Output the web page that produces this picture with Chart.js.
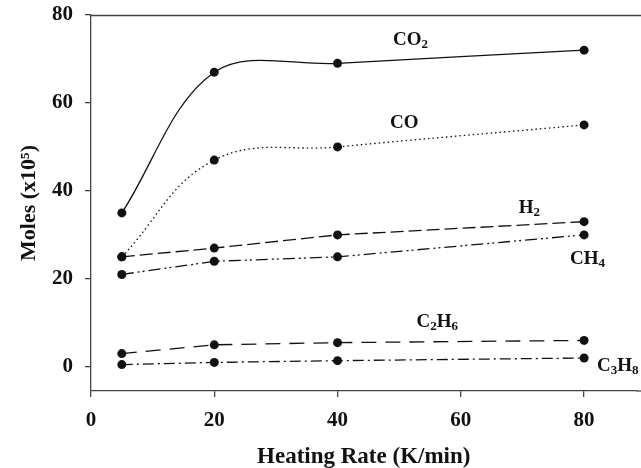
<!DOCTYPE html>
<html>
<head>
<meta charset="utf-8">
<title>Moles vs Heating Rate</title>
<script src="https://cdn.jsdelivr.net/npm/chart.js@4/dist/chart.umd.min.js"></script>
<style>
  html, body { margin: 0; padding: 0; background: #fff; }
  #wrap { width: 641px; height: 468px; }
</style>
</head>
<body>
<div id="wrap"><canvas id="canvas" width="641" height="468"></canvas></div>
<script>
// heating rates (K/min)
var rates = [5, 20, 40, 80];
// moles (x10^5) per gas
var co2  = [35, 67, 69, 72];
var co   = [25, 47, 50, 55];
var h2   = [25, 27, 30, 33];
var ch4  = [21, 24, 25, 30];
var c2h6 = [3, 5, 5.5, 6];
var c3h8 = [0.5, 1, 1.4, 2];
var xTicks = [0, 20, 40, 60, 80];
var yTicks = [0, 20, 40, 60, 80];

// gas labels, anchored in data units (left x, middle y)
var gasNames = ["CO2", "CO", "H2", "CH4", "C2H6", "C3H8"];
var labelX = [49, 48.5, 69.4, 77.7, 52.8, 82.1];
var labelY = [74.3, 55.5, 36.1, 24.5, 10.2, 0.2];

var serif = "'Liberation Serif', 'Times New Roman', serif";
var ink = "#111";

function pts(ys) {
  return rates.map(function (r, i) { return { x: r, y: ys[i] }; });
}

function ds(ys, dash, tension) {
  return {
    data: pts(ys),
    borderColor: ink,
    backgroundColor: ink,
    borderWidth: 1.3,
    borderDash: dash,
    tension: tension,
    pointRadius: 4.5,
    pointBackgroundColor: ink,
    pointBorderWidth: 0,
    fill: false
  };
}

var gasLabels = {
  id: "gasLabels",
  afterDatasetsDraw: function (chart) {
    var c = chart.ctx, xs = chart.scales.x, ys = chart.scales.y, a = chart.chartArea;
    c.save();
    // top frame line
    c.strokeStyle = "#444";
    c.lineWidth = 1.3;
    c.beginPath();
    c.moveTo(a.left, a.top + 0.5);
    c.lineTo(chart.width, a.top + 0.5);
    c.stroke();
    // x axis runs off the right edge in the original
    c.beginPath();
    c.moveTo(a.right, a.bottom);
    c.lineTo(chart.width, a.bottom);
    c.stroke();

    c.fillStyle = ink;
    c.textBaseline = "middle";
    gasNames.forEach(function (name, i) {
      var px = xs.getPixelForValue(labelX[i]);
      var py = ys.getPixelForValue(labelY[i]);
      var parts = name.match(/[A-Z][a-z]?|\d+/g);
      parts.forEach(function (p) {
        if (/\d/.test(p)) {
          c.font = "bold 13px " + serif;
          c.fillText(p, px, py + 5);
        } else {
          c.font = "bold 19px " + serif;
          c.fillText(p, px, py);
        }
        px += c.measureText(p).width;
      });
    });
    c.restore();
  }
};

new Chart(document.getElementById("canvas").getContext("2d"), {
  type: "line",
  data: {
    datasets: [
      ds(co2, [], 0.35),
      ds(co, [1.5, 3], 0.4),
      ds(h2, [13, 5], 0),
      ds(ch4, [12, 4, 2, 3, 2, 4], 0),
      ds(c2h6, [15, 9], 0),
      ds(c3h8, [11, 4, 2, 4], 0)
    ]
  },
  options: {
    responsive: false,
    animation: false,
    layout: { padding: { top: 15, right: 0, left: 0, bottom: 0 } },
    plugins: {
      legend: { display: false },
      tooltip: { enabled: false }
    },
    scales: {
      x: {
        type: "linear",
        min: 0,
        max: 88.5,
        afterBuildTicks: function (s) { s.ticks = xTicks.map(function (v) { return { value: v }; }); },
        afterFit: function (s) { s.height = 77; s.paddingLeft = 0; s.paddingRight = 0; },
        grid: { display: true, drawOnChartArea: false, drawTicks: true, tickLength: 6, color: "#444", lineWidth: 1.3 },
        border: { display: true, color: "#444", width: 1.3 },
        ticks: { color: ink, padding: 11, font: { family: serif, size: 21, weight: "bold" } },
        title: { display: true, text: "Heating Rate (K/min)", color: ink, padding: { top: 0, bottom: -3 }, font: { family: serif, size: 23, weight: "bold" } }
      },
      y: {
        min: -5.5,
        max: 80,
        afterBuildTicks: function (s) { s.ticks = yTicks.map(function (v) { return { value: v }; }); },
        afterFit: function (s) { s.width = 91; s.paddingTop = 0; s.paddingBottom = 0; },
        grid: { display: true, drawOnChartArea: false, drawTicks: true, tickLength: 6, color: "#444", lineWidth: 1.3 },
        border: { display: true, color: "#444", width: 1.3 },
        ticks: { color: ink, padding: 12, font: { family: serif, size: 21, weight: "bold" } },
        title: { display: true, text: "Moles (x10\u2075)", color: ink, padding: { top: 16, bottom: 0 }, font: { family: serif, size: 22, weight: "bold" } }
      }
    }
  },
  plugins: [gasLabels]
});
</script>
</body>
</html>
